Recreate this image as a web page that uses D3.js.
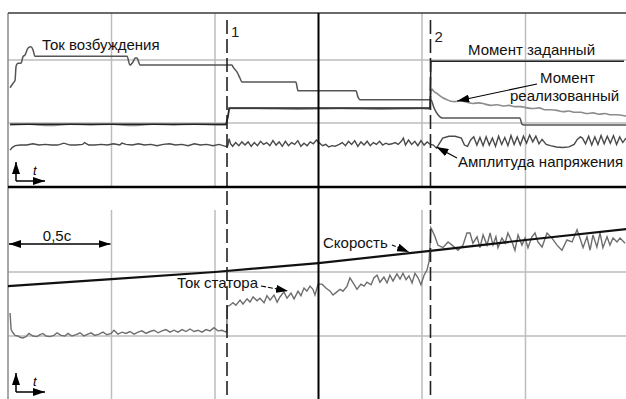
<!DOCTYPE html>
<html>
<head>
<meta charset="utf-8">
<script src="https://cdn.jsdelivr.net/npm/d3@7"></script>
<style>
  html, body { margin: 0; padding: 0; background: #fff; }
  svg { display: block; font-family: "Liberation Sans", Arial, sans-serif; }
</style>
</head>
<body>
<svg id="chart"></svg>
<script>
// time in seconds, one grid division = 0,5 c
const timeTicks = [0, 0.5, 1, 1.5, 2, 2.5];
const topLevels = [1, 2];
const bottomLevels = [1, 2];
const events = [{ t: 1.058, label: '1' }, { t: 2.041, label: '2' }];

// top panel, relative units
const fieldCurrent = [[0.010,1.56],[0.024,1.63],[0.034,1.68],[0.039,1.90],[0.048,1.95],[0.063,1.95],[0.072,2.05],[0.082,2.08],[0.097,2.19],[0.111,2.21],[0.121,2.16],[0.130,2.06],[0.575,2.06],[0.589,1.92],[0.604,1.97],[0.614,2.03],[0.623,2.03],[0.638,1.92],[0.647,1.92],[1.082,1.92],[1.087,1.89],[1.106,1.81],[1.121,1.71],[1.130,1.65],[1.391,1.65],[1.396,1.58],[1.401,1.51],[1.681,1.51],[1.691,1.41],[1.700,1.37],[2.043,1.37],[2.058,1.24],[2.077,1.13],[2.097,1.08],[2.473,1.08],[2.483,0.98],[2.493,0.97],[2.986,0.97]];

const torqueRef = [[0.010,0.98],[1.053,0.98],[1.063,1.11],[1.068,1.24],[2.039,1.24],[2.043,1.98],[2.976,1.98]];

const torqueAct = [[0.010,0.97],[0.10,0.98],[0.20,0.96],[0.30,0.98],[0.40,0.97],[0.50,0.98],[0.60,0.96],[0.70,0.98],[0.80,0.97],[0.90,0.98],[1.00,0.97],[1.053,0.97],[1.063,1.10],[1.072,1.23],[1.20,1.23],[1.40,1.22],[1.60,1.23],[1.80,1.22],[2.00,1.23],[2.038,1.22],[2.043,1.44],[2.048,1.54],[2.058,1.50],[2.072,1.47],[2.087,1.43],[2.101,1.40],[2.121,1.37],[2.135,1.35],[2.159,1.34],[2.188,1.35],[2.217,1.33],[2.246,1.31],[2.275,1.32],[2.304,1.30],[2.333,1.28],[2.362,1.29],[2.391,1.27],[2.42,1.28],[2.449,1.26],[2.478,1.26],[2.507,1.24],[2.536,1.23],[2.565,1.24],[2.594,1.21],[2.623,1.21],[2.652,1.20],[2.681,1.18],[2.71,1.19],[2.739,1.17],[2.768,1.17],[2.797,1.15],[2.826,1.16],[2.855,1.14],[2.884,1.15],[2.913,1.13],[2.942,1.13],[2.971,1.12],[2.986,1.11]];

const voltageAmp = [[0.010,0.57],[0.02,0.61],[0.035,0.64],[0.06,0.65],[0.09,0.65],[0.12,0.67],[0.15,0.65],[0.18,0.66],[0.21,0.65],[0.24,0.65],[0.27,0.68],[0.30,0.65],[0.33,0.65],[0.36,0.66],[0.37,0.69],[0.39,0.65],[0.42,0.65],[0.45,0.66],[0.48,0.65],[0.51,0.67],[0.54,0.65],[0.55,0.68],[0.57,0.66],[0.60,0.65],[0.63,0.67],[0.66,0.65],[0.69,0.66],[0.72,0.64],[0.75,0.66],[0.78,0.67],[0.81,0.65],[0.84,0.66],[0.87,0.64],[0.90,0.67],[0.93,0.65],[0.96,0.66],[0.99,0.64],[1.02,0.66],
  [1.050,0.63],[1.062,0.64],[1.068,0.75],[1.075,0.67],[1.085,0.63],[1.10,0.69],[1.115,0.64],[1.13,0.70],[1.145,0.65],[1.16,0.70],[1.175,0.63],[1.19,0.69],[1.205,0.64],[1.22,0.71],[1.235,0.66],[1.25,0.69],[1.265,0.64],[1.28,0.72],[1.295,0.65],[1.31,0.70],[1.325,0.63],[1.34,0.71],[1.355,0.64],[1.37,0.69],[1.385,0.66],[1.40,0.72],[1.415,0.63],[1.43,0.68],[1.445,0.64],[1.46,0.70],[1.475,0.67],[1.49,0.73],[1.505,0.68],[1.52,0.64],[1.535,0.66],[1.55,0.62],[1.565,0.64],[1.58,0.63],[1.60,0.66],[1.615,0.69],[1.63,0.64],[1.645,0.71],[1.66,0.66],[1.675,0.72],[1.69,0.63],[1.705,0.70],[1.72,0.65],[1.735,0.71],[1.75,0.64],[1.765,0.69],[1.78,0.66],[1.795,0.71],[1.81,0.65],[1.825,0.68],[1.84,0.66],[1.855,0.67],[1.87,0.69],[1.885,0.66],[1.90,0.71],[1.91,0.76],[1.92,0.65],[1.935,0.73],[1.95,0.66],[1.965,0.71],[1.98,0.64],[1.995,0.72],[2.01,0.65],[2.025,0.70],[2.04,0.66],
  [2.055,0.65],[2.07,0.60],[2.085,0.68],[2.10,0.76],[2.13,0.79],[2.16,0.79],[2.19,0.76],[2.205,0.65],[2.22,0.63],[2.235,0.73],[2.25,0.78],[2.265,0.65],[2.28,0.77],[2.295,0.64],[2.31,0.78],[2.325,0.65],[2.34,0.76],[2.355,0.63],[2.37,0.79],[2.385,0.66],[2.40,0.77],[2.415,0.64],[2.43,0.80],[2.445,0.66],[2.46,0.78],[2.475,0.65],[2.49,0.79],[2.505,0.68],[2.52,0.81],[2.535,0.70],[2.55,0.79],[2.565,0.67],[2.58,0.74],[2.60,0.66],[2.62,0.64],[2.65,0.62],[2.68,0.61],[2.71,0.62],[2.735,0.66],[2.75,0.74],[2.765,0.78],[2.775,0.76],[2.79,0.67],[2.805,0.79],[2.82,0.65],[2.835,0.78],[2.85,0.66],[2.865,0.80],[2.88,0.67],[2.895,0.79],[2.91,0.68],[2.925,0.80],[2.94,0.66],[2.955,0.78],[2.97,0.69],[2.985,0.76]];

// bottom panel, relative units
const speed = [[0,1.78],[0.5,1.89],[1.0,2.0],[1.5,2.14],[2.04,2.33],[2.5,2.5],[2.99,2.67]];

const statorCurrent = [[0.010,1.36],[0.015,1.10],[0.024,1.05],[0.034,1.01],[0.048,1.00],[0.058,0.98],[0.072,0.97],[0.087,0.99],[0.101,1.04],[0.121,1.00],[0.140,0.99],[0.155,1.02],[0.169,1.04],[0.184,1.00],[0.203,0.99],[0.222,1.01],[0.237,1.05],[0.256,1.01],[0.275,1.00],[0.290,1.04],[0.309,1.00],[0.329,1.02],[0.348,1.05],[0.367,1.00],[0.386,1.03],[0.401,1.05],[0.420,1.01],[0.440,1.03],[0.459,1.06],[0.478,1.02],[0.498,1.04],[0.512,1.09],[0.531,1.03],[0.551,1.06],[0.570,1.04],[0.589,1.07],[0.609,1.03],[0.628,1.06],[0.647,1.08],[0.667,1.04],[0.686,1.07],[0.705,1.09],[0.725,1.05],[0.744,1.08],[0.763,1.10],[0.783,1.06],[0.802,1.09],[0.821,1.06],[0.841,1.10],[0.860,1.07],[0.879,1.11],[0.899,1.07],[0.918,1.09],[0.937,1.06],[0.957,1.10],[0.976,1.08],[0.995,1.13],[1.014,1.08],[1.034,1.09],[1.048,1.07],[1.056,1.06],
  [1.060,1.47],[1.068,1.47],[1.087,1.52],[1.101,1.48],[1.121,1.56],[1.135,1.50],[1.155,1.58],[1.169,1.53],[1.184,1.61],[1.203,1.55],[1.217,1.59],[1.237,1.52],[1.251,1.63],[1.266,1.56],[1.285,1.64],[1.300,1.53],[1.314,1.61],[1.333,1.69],[1.348,1.59],[1.367,1.67],[1.382,1.58],[1.401,1.70],[1.415,1.63],[1.430,1.75],[1.444,1.70],[1.459,1.78],[1.473,1.73],[1.483,1.64],[1.498,1.81],[1.517,1.81],[1.536,1.75],[1.556,1.70],[1.570,1.64],[1.589,1.69],[1.604,1.73],[1.618,1.70],[1.638,1.78],[1.652,1.91],[1.671,1.81],[1.686,1.73],[1.705,1.81],[1.720,1.78],[1.734,1.84],[1.754,1.80],[1.768,1.91],[1.783,1.95],[1.797,1.84],[1.816,1.92],[1.831,1.83],[1.845,1.95],[1.860,1.86],[1.879,1.97],[1.894,1.89],[1.908,1.98],[1.923,1.88],[1.937,1.94],[1.952,1.83],[1.966,1.98],[1.981,1.91],[1.995,1.80],[2.010,1.95],[2.024,2.03],[2.034,2.16],[2.039,2.42],[2.043,2.69],
  [2.048,2.66],[2.063,2.55],[2.077,2.42],[2.101,2.38],[2.126,2.47],[2.145,2.42],[2.174,2.34],[2.198,2.42],[2.217,2.61],[2.232,2.61],[2.246,2.45],[2.266,2.55],[2.280,2.38],[2.295,2.58],[2.314,2.42],[2.329,2.61],[2.343,2.42],[2.357,2.55],[2.367,2.38],[2.386,2.53],[2.401,2.45],[2.415,2.61],[2.435,2.47],[2.449,2.34],[2.464,2.58],[2.483,2.42],[2.498,2.53],[2.512,2.38],[2.531,2.55],[2.546,2.61],[2.560,2.47],[2.580,2.39],[2.604,2.61],[2.628,2.53],[2.652,2.42],[2.676,2.34],[2.700,2.50],[2.725,2.47],[2.749,2.66],[2.763,2.53],[2.778,2.38],[2.797,2.55],[2.812,2.34],[2.826,2.58],[2.845,2.39],[2.860,2.61],[2.874,2.38],[2.894,2.55],[2.908,2.42],[2.923,2.53],[2.942,2.47],[2.957,2.53],[2.981,2.45]];

// layout
const width = 626;
const height = 399;
const frame = { left: 8, right: 629, top: 13, split: 187, bottom: 399, gridResume: 210 };

const svg = d3.select('#chart').attr('width', width).attr('height', height);

const x = d3.scaleLinear().domain([0, 3]).range([frame.left, frame.right]);
const yTop = d3.scaleLinear().domain([0, 2]).range([186, 60]);
const yBot = d3.scaleLinear().domain([0, 3]).range([400, 208]);

const defs = svg.append('defs');
defs.append('marker')
    .attr('id', 'arrow')
    .attr('markerUnits', 'userSpaceOnUse')
    .attr('markerWidth', 12).attr('markerHeight', 8)
    .attr('refX', 12).attr('refY', 4)
    .attr('orient', 'auto-start-reverse')
    .append('path').attr('d', 'M0,0 L12,4 L0,8 Z').attr('fill', '#000');

const gGrid = svg.append('g').attr('class', 'grid');
const gLines = svg.append('g').attr('class', 'lines');
const gNotes = svg.append('g').attr('class', 'notes');

// grid
const gridColor = '#bdbdbd';
gGrid.selectAll('line.h-top')
    .data(topLevels).enter().append('line')
    .attr('x1', frame.left).attr('x2', width)
    .attr('y1', d => yTop(d)).attr('y2', d => yTop(d))
    .attr('stroke', gridColor).attr('stroke-width', 1.5);

gGrid.selectAll('line.h-bot')
    .data(bottomLevels).enter().append('line')
    .attr('x1', frame.left).attr('x2', width)
    .attr('y1', d => yBot(d)).attr('y2', d => yBot(d))
    .attr('stroke', gridColor).attr('stroke-width', 1.5);

const vGrid = timeTicks.filter(t => t > 0 && t !== 1.5);
gGrid.selectAll('line.v-top')
    .data(vGrid).enter().append('line')
    .attr('x1', d => x(d)).attr('x2', d => x(d))
    .attr('y1', frame.top).attr('y2', frame.split)
    .attr('stroke', gridColor).attr('stroke-width', 1.5);

gGrid.selectAll('line.v-bot')
    .data(vGrid).enter().append('line')
    .attr('x1', d => x(d)).attr('x2', d => x(d))
    .attr('y1', d => d === 2.5 ? frame.split : frame.gridResume).attr('y2', frame.bottom)
    .attr('stroke', gridColor).attr('stroke-width', 1.5);

// frame
gGrid.append('line')
    .attr('x1', x(0)).attr('x2', x(0))
    .attr('y1', frame.top).attr('y2', frame.bottom)
    .attr('stroke', '#8a8a8a').attr('stroke-width', 1.5);
gGrid.append('line')
    .attr('x1', frame.left).attr('x2', width)
    .attr('y1', frame.top).attr('y2', frame.top)
    .attr('stroke', '#3a3a3a').attr('stroke-width', 1.5);

// curves
const lineTop = d3.line().x(d => x(d[0])).y(d => yTop(d[1]));
const lineTopSmooth = d3.line().x(d => x(d[0])).y(d => yTop(d[1])).curve(d3.curveMonotoneX);
const lineBot = d3.line().x(d => x(d[0])).y(d => yBot(d[1]));

gLines.append('path').datum(voltageAmp).attr('d', lineTop)
    .attr('fill', 'none').attr('stroke', '#4a4a4a').attr('stroke-width', 1.4);
gLines.append('path').datum(torqueAct).attr('d', lineTopSmooth)
    .attr('fill', 'none').attr('stroke', '#8c8c8c').attr('stroke-width', 1.6);
gLines.append('path').datum(fieldCurrent).attr('d', lineTopSmooth)
    .attr('fill', 'none').attr('stroke', '#555').attr('stroke-width', 1.5);
gLines.append('path').datum(torqueRef).attr('d', lineTop)
    .attr('fill', 'none').attr('stroke', '#222').attr('stroke-width', 1.5);

gLines.append('path').datum(statorCurrent).attr('d', lineBot)
    .attr('fill', 'none').attr('stroke', '#6e6e6e').attr('stroke-width', 1.4);
gLines.append('path').datum(speed).attr('d', lineBot)
    .attr('fill', 'none').attr('stroke', '#111').attr('stroke-width', 2.2);

// panel separator and the thick centre line
gLines.append('line')
    .attr('x1', frame.left).attr('x2', width)
    .attr('y1', frame.split).attr('y2', frame.split)
    .attr('stroke', '#000').attr('stroke-width', 2.5);
gLines.append('line')
    .attr('x1', x(1.5)).attr('x2', x(1.5))
    .attr('y1', frame.top).attr('y2', frame.bottom)
    .attr('stroke', '#000').attr('stroke-width', 2);

// event markers
const ev = gLines.selectAll('g.event').data(events).enter().append('g');
ev.append('line')
    .attr('x1', d => x(d.t)).attr('x2', d => x(d.t))
    .attr('y1', 20).attr('y2', frame.bottom)
    .attr('stroke', '#222').attr('stroke-width', 1.6)
    .attr('stroke-dasharray', '14,5');
ev.append('text')
    .attr('x', d => x(d.t) + 4).attr('y', (d, i) => i === 0 ? 37 : 42)
    .attr('font-size', 15).attr('fill', '#222')
    .text(d => d.label);

// annotations
const note = (txt, px, py, anchor) => gNotes.append('text')
    .attr('x', px).attr('y', py)
    .attr('text-anchor', anchor || 'start')
    .attr('font-size', 15).attr('fill', '#111')
    .text(txt);

note('Ток возбуждения', 42, 50);
note('Момент заданный', 468, 55);
note('Момент', 540, 83);
note('реализованный', 510, 101);
note('Амплитуда напряжения', 458, 167);
note('Скорость', 323, 248);
note('Ток статора', 177, 288);
note('0,5с', 57, 241, 'middle');

const arrow = (x1, y1, x2, y2, dash) => gNotes.append('line')
    .attr('x1', x1).attr('y1', y1).attr('x2', x2).attr('y2', y2)
    .attr('stroke', '#000').attr('stroke-width', 1.1)
    .attr('stroke-dasharray', dash || null)
    .attr('marker-end', 'url(#arrow)');

arrow(537, 84, x(2.17), yTop(1.35));
arrow(457, 158, x(2.07), yTop(0.62));
arrow(392, 245, 409, 252, '4,2');
arrow(261, 286, 288, 291, '5,2');

// 0,5 c span
gNotes.append('line')
    .attr('x1', x(0) + 1).attr('x2', x(0.5) - 1)
    .attr('y1', 244).attr('y2', 244)
    .attr('stroke', '#000').attr('stroke-width', 1.5)
    .attr('marker-start', 'url(#arrow)')
    .attr('marker-end', 'url(#arrow)');

// t-axis icons
const tIcon = (y0) => {
    gNotes.append('line')
        .attr('x1', 16).attr('x2', 16).attr('y1', y0).attr('y2', y0 - 19)
        .attr('stroke', '#000').attr('stroke-width', 1.5)
        .attr('marker-end', 'url(#arrow)');
    gNotes.append('line')
        .attr('x1', 16).attr('x2', 45).attr('y1', y0).attr('y2', y0)
        .attr('stroke', '#000').attr('stroke-width', 1.5)
        .attr('marker-end', 'url(#arrow)');
    gNotes.append('text')
        .attr('x', 33).attr('y', y0 - 6)
        .attr('font-size', 13).attr('font-style', 'italic')
        .text('t');
};
tIcon(181);
tIcon(392);
</script>
</body>
</html>
